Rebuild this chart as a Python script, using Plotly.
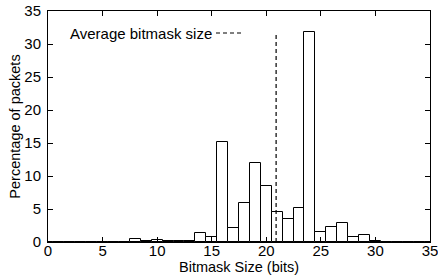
import plotly.graph_objects as go

bit_sizes = list(range(0, 36))
percentages = [0.0, 0.0, 0.0, 0.0, 0.05, 0.0, 0.0, 0.0, 0.4, 0.1,
               0.35, 0.1, 0.15, 0.2, 1.4, 0.8, 15.2, 2.1, 5.9, 11.9,
               8.5, 4.6, 3.5, 5.2, 31.8, 1.5, 2.2, 2.9, 0.7, 1.05,
               0.2, 0.05, 0.05, 0.0, 0.0, 0.0]
avg_size = 20.9
avg_line_top = 31.8
legend_label = "Average bitmask size"
x_title = "Bitmask Size (bits)"
y_title = "Percentage of packets"
tick_vals = [0, 5, 10, 15, 20, 25, 30, 35]

font_family = "Liberation Sans, Arial, sans-serif"

fig = go.Figure()
fig.add_trace(go.Bar(
    x=bit_sizes, y=percentages, width=1.0,
    marker=dict(color="white", line=dict(color="black", width=1)),
    showlegend=False,
))
fig.add_trace(go.Scatter(
    x=[avg_size, avg_size], y=[0, avg_line_top], mode="lines",
    line=dict(color="black", width=1.2, dash="4px,3px"),
    showlegend=False,
))

fig.add_annotation(
    xref="paper", yref="paper", x=(214 - 48) / 382, y=(242 - 33) / 231,
    text=legend_label, showarrow=False, xanchor="right", yanchor="middle",
    font=dict(family=font_family, size=15, color="black"),
)
fig.add_shape(
    type="line", xref="paper", yref="paper",
    x0=(216 - 48) / 382, x1=(244 - 48) / 382,
    y0=(242 - 33) / 231, y1=(242 - 33) / 231,
    line=dict(color="black", width=1.2, dash="4px,3px"),
)
# x-axis title
fig.add_annotation(
    xref="paper", yref="paper", x=0.5, y=(242 - 267) / 231,
    text=x_title, showarrow=False, xanchor="center", yanchor="middle",
    font=dict(family=font_family, size=14.5, color="black"),
)

axis_common = dict(
    showline=True, linecolor="black", linewidth=1, mirror="allticks",
    ticks="inside", ticklen=5, tickcolor="black", tickwidth=1,
    showgrid=False, zeroline=False, automargin=False,
    ticklabeloverflow="allow",
    tickfont=dict(family=font_family, size=15, color="black"),
)

fig.update_layout(
    width=438, height=280,
    margin=dict(l=48, r=8, t=11, b=38),
    paper_bgcolor="white", plot_bgcolor="white",
    bargap=0,
    xaxis=dict(range=[0, 35], tickvals=tick_vals, ticklabelstandoff=-5,
               **axis_common),
    yaxis=dict(range=[0, 35], tickvals=tick_vals, ticklabelstandoff=3,
               title=dict(text=y_title, standoff=0,
                          font=dict(family=font_family, size=14.5, color="black")),
               **axis_common),
)

fig.write_html("out.html", config={"displayModeBar": False},
               post_script="document.body.style.margin='0';document.body.style.overflow='hidden';")
